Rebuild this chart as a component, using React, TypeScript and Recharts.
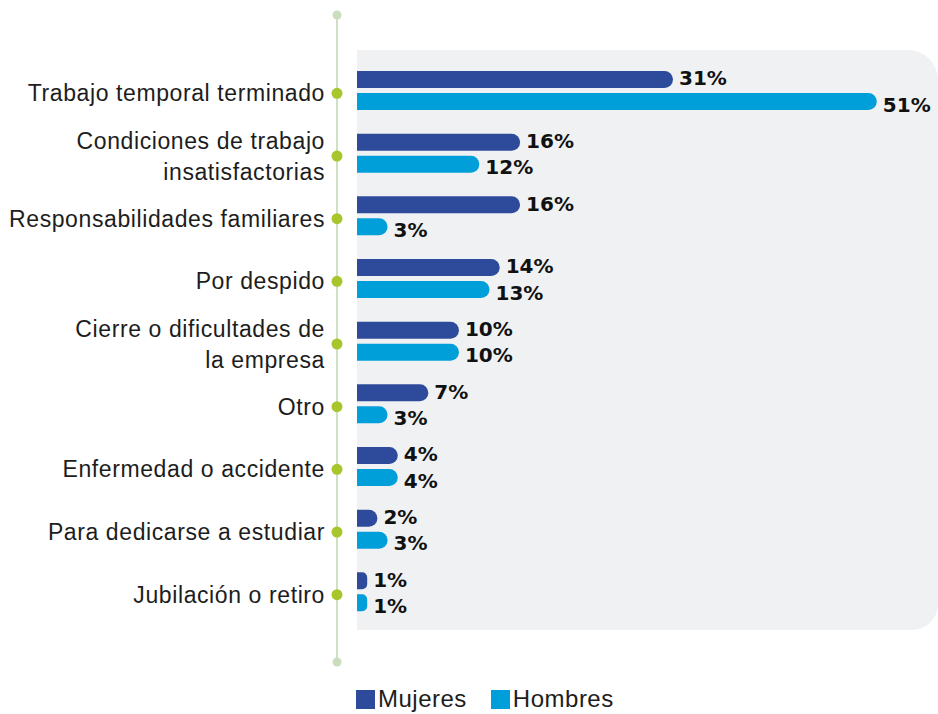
import React from "react";
import {
  BarChart,
  Bar,
  XAxis,
  YAxis,
  Legend,
  LabelList,
  Customized,
} from "recharts";

const categories = [
  "Trabajo temporal terminado",
  "Condiciones de trabajo\ninsatisfactorias",
  "Responsabilidades familiares",
  "Por despido",
  "Cierre o dificultades de\nla empresa",
  "Otro",
  "Enfermedad o accidente",
  "Para dedicarse a estudiar",
  "Jubilación o retiro",
];
const mujeres = [31, 16, 16, 14, 10, 7, 4, 2, 1];
const hombres = [51, 12, 3, 13, 10, 3, 4, 3, 1];

const DARK = "#2E4B9B";
const LIGHT = "#009FDA";
const FONT = "'Liberation Sans', Arial, sans-serif";
const BOLD_FONT = "'DejaVu Sans', sans-serif";

const data = categories.map((c, i) => ({
  name: c,
  Mujeres: mujeres[i],
  Hombres: hombres[i],
}));

function CategoryTick({ x, y, payload }: any) {
  const lines = String(payload.value).split("\n");
  const lh = 31;
  const cy = y + 3;
  const start = cy - ((lines.length - 1) * lh) / 2;
  return (
    <g>
      <text
        x={x - 24}
        y={start}
        textAnchor="end"
        fontFamily={FONT}
        fontSize={23}
        letterSpacing={0.6}
        fill="#1d1d1d"
      >
        {lines.map((l, i) => (
          <tspan key={i} x={x - 24} y={start + i * lh} dy="0.35em">
            {l}
          </tspan>
        ))}
      </text>
      <circle cx={x - 12} cy={cy} r={5.5} fill="#A8C52C" />
    </g>
  );
}

function Spine() {
  return (
    <g>
      <line x1={337} y1={15} x2={337} y2={662} stroke="#CFE0C4" strokeWidth={2} />
      <circle cx={337} cy={15} r={4.5} fill="#CBDDBF" />
      <circle cx={337} cy={662} r={4.5} fill="#CBDDBF" />
    </g>
  );
}

function LegendContent() {
  return (
    <div style={{ display: "flex", alignItems: "center", fontFamily: FONT, fontSize: 24, letterSpacing: 0.5, color: "#1d1d1d" }}>
      <span style={{ width: 19, height: 19, background: DARK, display: "inline-block", marginRight: 3 }} />
      <span style={{ marginRight: 24 }}>Mujeres</span>
      <span style={{ width: 19, height: 19, background: LIGHT, display: "inline-block", marginRight: 3 }} />
      <span>Hombres</span>
    </div>
  );
}

const valueLabel = (shift: number) => (props: any) => {
  const { x, y, width, height, value } = props;
  return (
    <text
      x={Number(x) + Number(width) + 6}
      y={Number(y) + Number(height) / 2 + shift}
      dy="0.36em"
      fontFamily={BOLD_FONT}
      fontSize={20}
      fontWeight={700}
      fill="#111"
    >
      {`${value}%`}
    </text>
  );
};

export default function App() {
  return (
    <div style={{ position: "absolute", left: 0, top: 0, width: 938, height: 714 }}>
      <div
        style={{
          position: "absolute",
          left: 357,
          top: 50,
          width: 581,
          height: 580,
          background: "#F0F1F3",
          borderRadius: "0 30px 26px 0",
        }}
      />
      <BarChart
        width={938}
        height={714}
        data={data}
        layout="vertical"
        margin={{ top: 59, right: 0, bottom: 91, left: 0 }}
        barSize={17}
        barGap={5}
        style={{ position: "absolute", left: 0, top: 0 }}
      >
        <Customized component={Spine} />
        <XAxis type="number" domain={[0, 57]} hide />
        <YAxis
          type="category"
          dataKey="name"
          width={357}
          axisLine={false}
          tickLine={false}
          tick={<CategoryTick />}
          interval={0}
        />
        <Legend
          layout="horizontal"
          verticalAlign="middle"
          content={<LegendContent />}
          wrapperStyle={{ top: 685, left: 356, width: 340 }}
        />
        <Bar dataKey="Mujeres" fill={DARK} radius={[0, 9, 9, 0]} isAnimationActive={false}>
          <LabelList dataKey="Mujeres" content={valueLabel(-1.5)} />
        </Bar>
        <Bar dataKey="Hombres" fill={LIGHT} radius={[0, 9, 9, 0]} isAnimationActive={false}>
          <LabelList dataKey="Hombres" content={valueLabel(3)} />
        </Bar>
      </BarChart>
    </div>
  );
}
